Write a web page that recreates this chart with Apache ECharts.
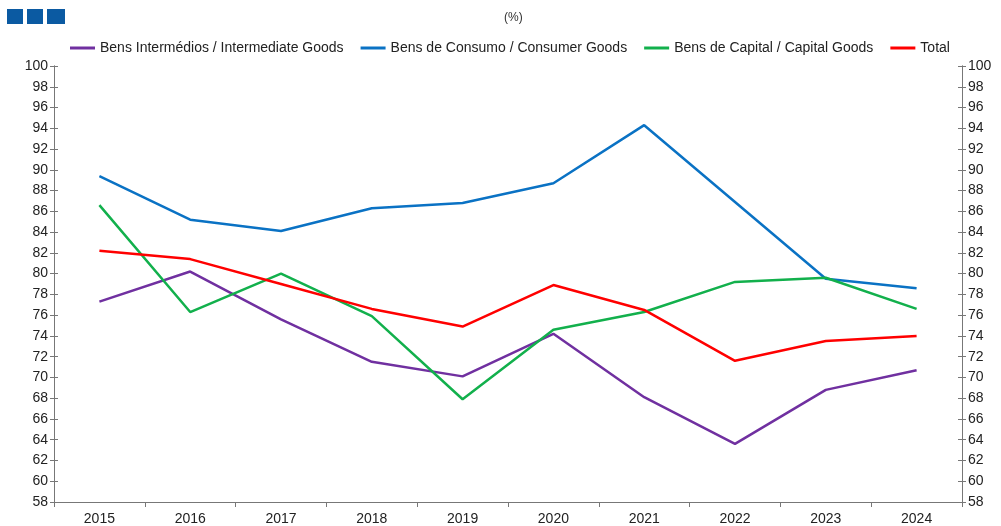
<!DOCTYPE html>
<html>
<head>
<meta charset="utf-8">
<script src="https://cdn.jsdelivr.net/npm/echarts@6/dist/echarts.min.js"></script>
<style>
  html, body { margin: 0; padding: 0; background: #fff; }
  #chart { width: 1001px; height: 526px; }
</style>
</head>
<body>
<div id="chart"></div>
<script>
var years = ['2015', '2016', '2017', '2018', '2019', '2020', '2021', '2022', '2023', '2024']
var intermediate = [77.3, 80.2, 75.6, 71.5, 70.1, 74.2, 68.1, 63.6, 68.8, 70.7]
var consumer = [89.4, 85.2, 84.1, 86.3, 86.8, 88.7, 94.3, 86.9, 79.5, 78.6]
var capital = [86.6, 76.3, 80.0, 75.9, 67.9, 74.6, 76.3, 79.2, 79.6, 76.6]
var total = [82.2, 81.4, 79.0, 76.6, 74.9, 78.9, 76.5, 71.6, 73.5, 74.0]
var seriesNames = [
  'Bens Intermédios / Intermediate Goods',
  'Bens de Consumo / Consumer Goods',
  'Bens de Capital / Capital Goods',
  'Total'
]
var colors = ['#7030a0', '#0a72c4', '#12b04c', '#ff0000']

var chart = echarts.init(document.getElementById('chart'))

var axisColor = '#777'
var font = 'Liberation Sans, Arial, sans-serif'
function yAxisCfg(position, inside, showLabel) {
  return {
    type: 'value',
    position: position,
    min: 58,
    max: 100,
    interval: 2,
    splitLine: { show: false },
    axisLine: { show: true, lineStyle: { color: axisColor, width: 1 } },
    axisTick: { show: true, inside: inside, length: 4, lineStyle: { color: axisColor } },
    axisLabel: {
      show: showLabel,
      color: '#222',
      fontSize: 14,
      fontFamily: font,
      margin: 6
    }
  }
}

chart.setOption({
  animation: false,
  color: colors,
  grid: { left: 54, right: 39, top: 66, bottom: 21 },
  title: {
    text: '(%)',
    left: 499,
    top: 7,
    textStyle: { fontSize: 12, fontWeight: 'normal', color: '#333', fontFamily: font }
  },
  graphic: [
    { type: 'rect', shape: { x: 7, y: 9, width: 16, height: 15 }, style: { fill: '#0b5aa2' } },
    { type: 'rect', shape: { x: 27, y: 9, width: 16, height: 15 }, style: { fill: '#0b5aa2' } },
    { type: 'rect', shape: { x: 47, y: 9, width: 18, height: 15 }, style: { fill: '#0b5aa2' } }
  ],
  legend: {
    left: 65,
    top: 36,
    itemWidth: 25,
    itemHeight: 3,
    itemGap: 17,
    icon: 'rect',
    textStyle: { fontSize: 14, color: '#222', fontFamily: font },
    data: seriesNames
  },
  xAxis: {
    type: 'category',
    data: years,
    boundaryGap: true,
    axisLine: { lineStyle: { color: axisColor } },
    axisTick: { show: true, length: 5, lineStyle: { color: axisColor } },
    axisLabel: { color: '#222', fontSize: 14, fontFamily: font, margin: 10 }
  },
  yAxis: [
    yAxisCfg('left', false, true),
    yAxisCfg('right', false, true),
    yAxisCfg('left', true, false),
    yAxisCfg('right', true, false)
  ],
  series: [
    { name: seriesNames[0], type: 'line', data: intermediate, symbol: 'none', lineStyle: { width: 2.5 } },
    { name: seriesNames[1], type: 'line', data: consumer, symbol: 'none', lineStyle: { width: 2.5 } },
    { name: seriesNames[2], type: 'line', data: capital, symbol: 'none', lineStyle: { width: 2.5 } },
    { name: seriesNames[3], type: 'line', data: total, symbol: 'none', lineStyle: { width: 2.5 } }
  ]
})
</script>
</body>
</html>
